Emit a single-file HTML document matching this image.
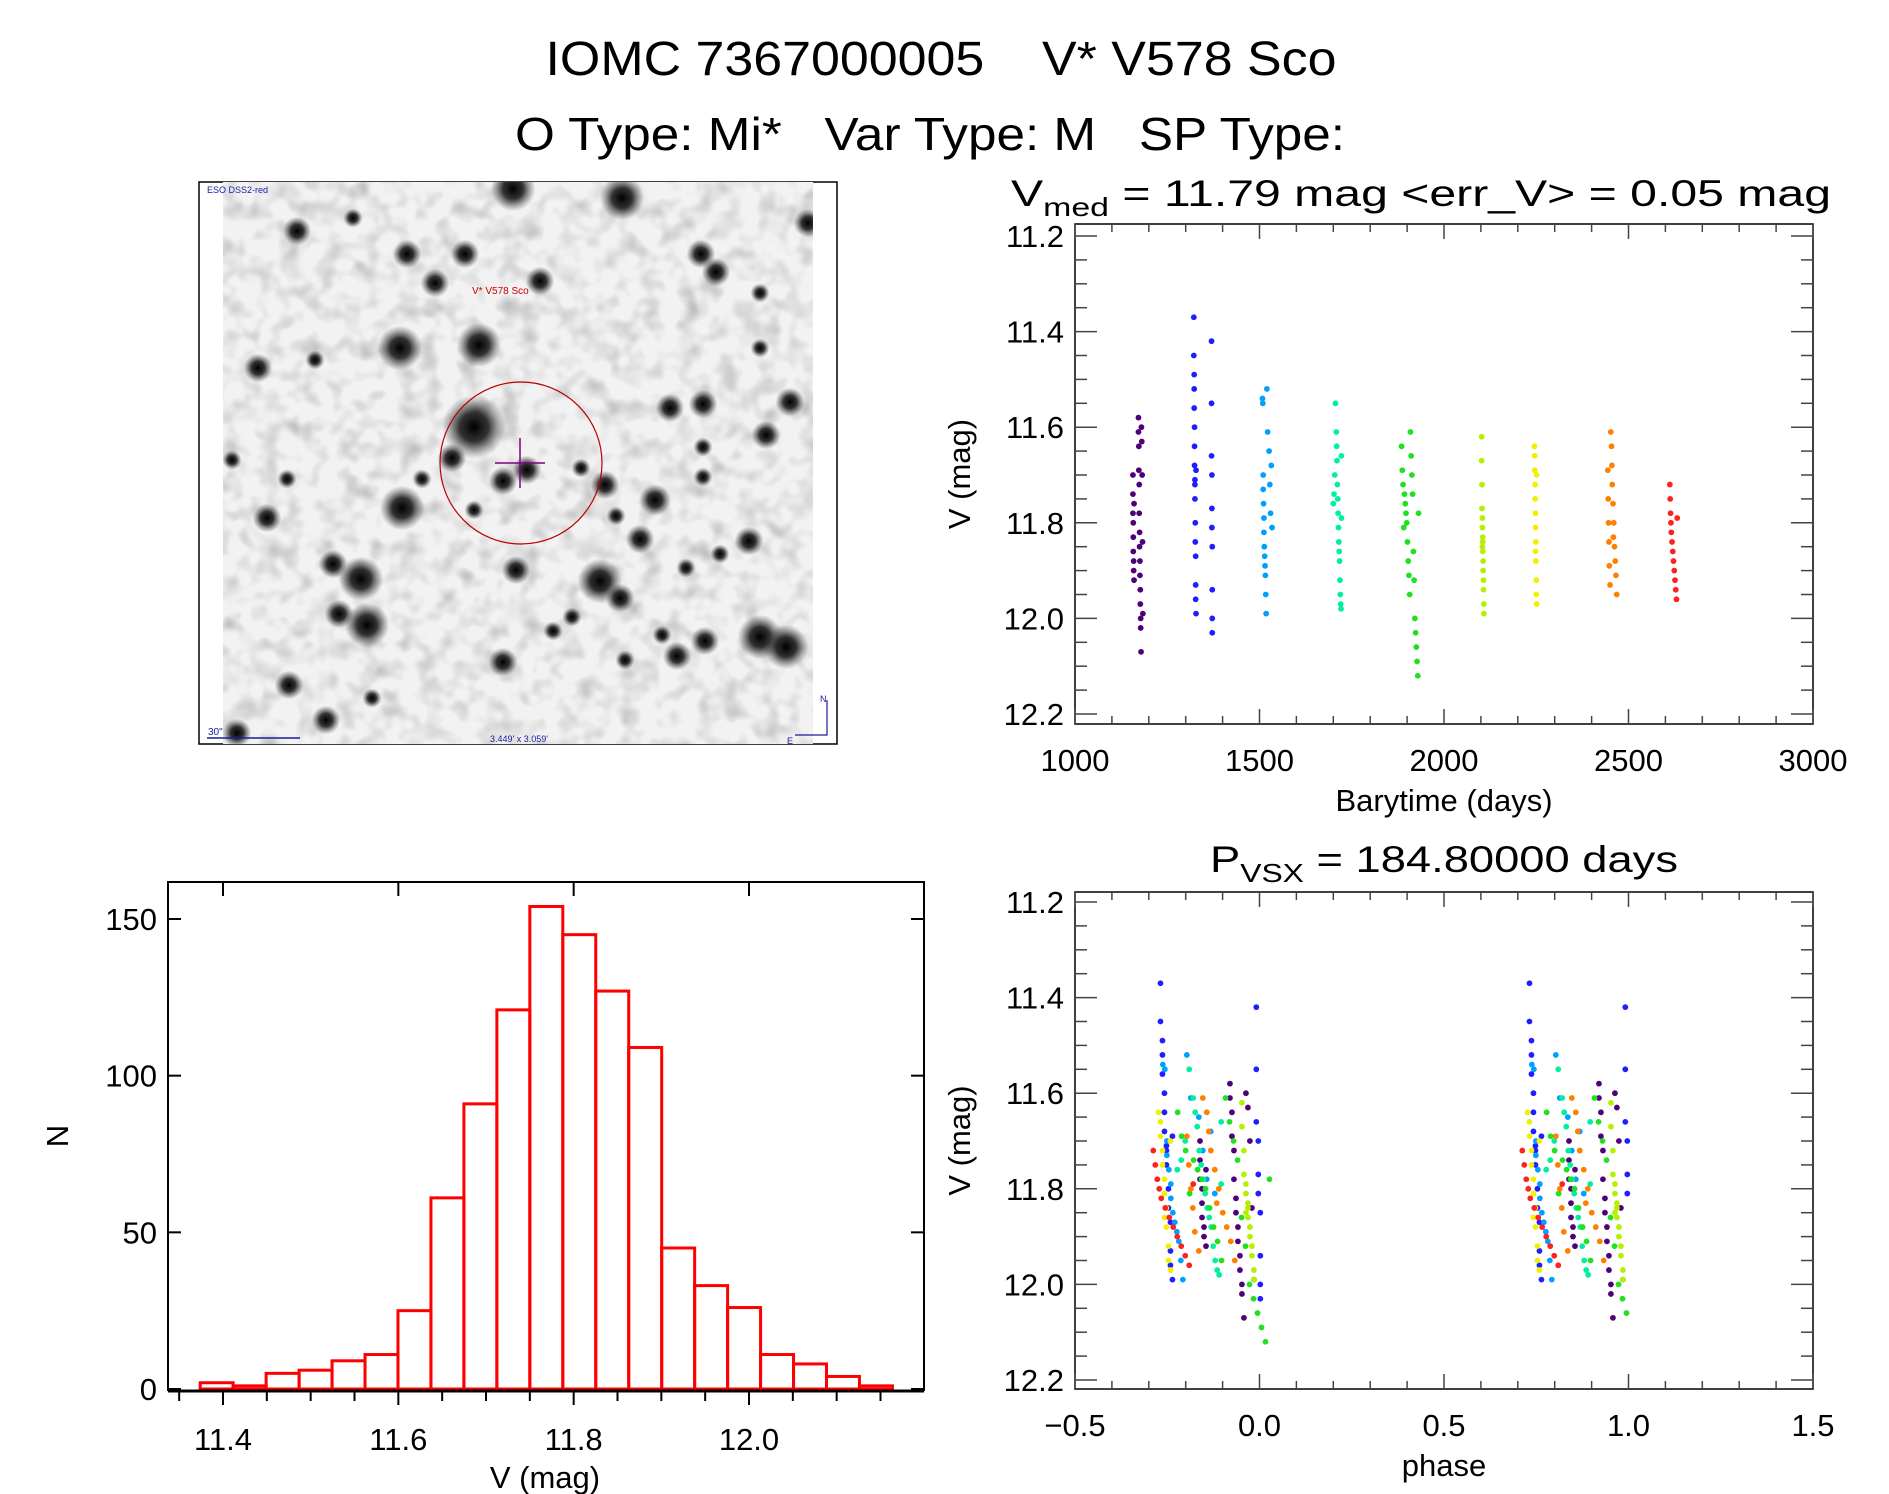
<!DOCTYPE html>
<html><head><meta charset="utf-8"><title>IOMC 7367000005 V* V578 Sco</title>
<style>
html,body{margin:0;padding:0;background:#fff;}
svg{display:block;font-family:"Liberation Sans",sans-serif;}
</style></head>
<body>
<svg id="fig" width="1889" height="1494" viewBox="0 0 1889 1494" xmlns="http://www.w3.org/2000/svg">
<defs>
<radialGradient id="star"><stop offset="0" stop-color="#000" stop-opacity="1"/><stop offset="0.45" stop-color="#111" stop-opacity="0.85"/><stop offset="1" stop-color="#444" stop-opacity="0"/></radialGradient>
<filter id="noise" x="0" y="0" width="100%" height="100%"><feTurbulence type="fractalNoise" baseFrequency="0.05" numOctaves="2" seed="3"/><feColorMatrix type="matrix" values="0 0 0 0 0  0 0 0 0 0  0 0 0 0 0  0.3 0.3 0 0 -0.27"/></filter>
<clipPath id="imgclip"><rect x="223" y="182" width="590" height="562"/></clipPath>
<clipPath id="phclip"><rect x="1075" y="892" width="738" height="497"/></clipPath>
</defs>
<rect width="1889" height="1494" fill="#fff"/>
<text x="941" y="75" font-size="48" text-anchor="middle" textLength="791" lengthAdjust="spacingAndGlyphs" xml:space="preserve">IOMC 7367000005    V* V578 Sco</text>
<text x="930" y="150" font-size="46" text-anchor="middle" textLength="830" lengthAdjust="spacingAndGlyphs" xml:space="preserve">O Type: Mi*   Var Type: M   SP Type:</text>

<g id="skyimage">
<rect x="199" y="182" width="638" height="562" fill="#fff" stroke="#000" stroke-width="1.5"/>
<g clip-path="url(#imgclip)">
<rect x="223" y="182" width="590" height="562" fill="#f2f2f2"/>
<rect x="223" y="182" width="590" height="562" filter="url(#noise)" fill="#000"/>
<g id="stars"></g>
</g>
<text x="207" y="193" font-size="9" fill="#1a1aa0">ESO DSS2-red</text>
<text x="472" y="294" font-size="10" fill="#c00">V* V578 Sco</text>
<circle cx="521" cy="463" r="81" fill="none" stroke="#b00" stroke-width="1.2"/>
<line x1="495" y1="463" x2="545" y2="463" stroke="#800080" stroke-width="1.5"/>
<line x1="520" y1="438" x2="520" y2="488" stroke="#800080" stroke-width="1.5"/>
<line x1="207" y1="738" x2="300" y2="738" stroke="#1a1aa0" stroke-width="1.5"/>
<text x="208" y="735" font-size="10" fill="#1a1aa0">30"</text>
<text x="519" y="742" font-size="9" fill="#1a1aa0" text-anchor="middle">3.449' x 3.059'</text>
<polyline points="827,700 827,735 795,735" fill="none" stroke="#1a1aa0" stroke-width="1.2"/>
<text x="820" y="702" font-size="9" fill="#1a1aa0">N</text>
<text x="787" y="744" font-size="9" fill="#1a1aa0">E</text>
</g>

<g id="lcpts"></g>
<g id="phpts" clip-path="url(#phclip)"></g>
<g id="lc"></g>
<g id="ph"></g>
<g id="hist"></g>
</svg>
<script>
// ---------- data ----------
const seasonColors = ['#500078','#1e1eff','#00a0ff','#00f0a0','#20e020','#b4f000','#f0f000','#ff8000','#ff2020'];
const seasonTimes = [
 [1157,1157,1157,1158,1158,1158,1159,1159,1160,1160,1172,1172,1173,1173,1174,1174,1175,1175,1176,1176,1177,1177,1178,1178,1179,1180,1181,1182,1183,1184],
 [1322,1322,1323,1323,1323,1324,1324,1324,1325,1325,1325,1326,1326,1327,1327,1327,1328,1328,1370,1370,1370,1371,1371,1371,1372,1372,1372,1372],
 [1508,1509,1510,1510,1511,1512,1512,1513,1514,1515,1516,1517,1518,1520,1522,1526,1528,1530,1532,1534],
 [1700,1702,1704,1706,1708,1709,1710,1711,1712,1713,1714,1715,1716,1717,1718,1719,1720,1721,1722,1722],
 [1885,1887,1889,1891,1893,1895,1897,1899,1901,1903,1905,1907,1909,1911,1913,1915,1917,1919,1921,1923,1925,1927,1929,1931],
 [2102,2102,2103,2103,2104,2104,2105,2105,2106,2106,2107,2107,2108,2108,2105,2104],
 [2245,2246,2246,2247,2247,2248,2248,2249,2249,2250,2250,2251,2251,2248],
 [2444,2445,2446,2447,2448,2450,2452,2454,2456,2458,2460,2462,2464,2466,2468,2455,2459],
 [2612,2613,2614,2615,2616,2618,2620,2622,2624,2626,2628,2630,2632]
];
const seasonMags = [
 [11.70,11.74,11.78,11.80,11.83,11.86,11.88,11.90,11.92,11.76,11.58,11.61,11.64,11.69,11.72,11.78,11.82,11.85,11.88,11.91,11.94,11.97,12.00,12.02,12.07,11.60,11.63,11.70,11.84,11.99],
 [11.37,11.45,11.49,11.52,11.56,11.60,11.64,11.68,11.71,11.72,11.75,11.80,11.84,11.87,11.93,11.96,11.99,11.69,11.42,11.55,11.66,11.70,11.77,11.81,11.85,11.94,12.00,12.03],
 [11.54,11.55,11.70,11.73,11.76,11.79,11.82,11.85,11.87,11.89,11.91,11.95,11.99,11.52,11.61,11.65,11.72,11.78,11.68,11.81],
 [11.76,11.74,11.70,11.55,11.61,11.64,11.67,11.72,11.75,11.78,11.81,11.84,11.86,11.88,11.92,11.95,11.97,11.98,11.66,11.79],
 [11.64,11.69,11.72,11.81,11.74,11.76,11.78,11.80,11.84,11.88,11.91,11.95,11.61,11.66,11.70,11.74,11.86,11.92,12.00,12.03,12.06,12.09,12.12,11.78],
 [11.62,11.67,11.72,11.77,11.79,11.81,11.84,11.86,11.88,11.90,11.92,11.94,11.97,11.99,11.83,11.85],
 [11.64,11.66,11.69,11.72,11.75,11.78,11.81,11.84,11.88,11.92,11.95,11.97,11.70,11.86],
 [11.69,11.75,11.80,11.84,11.89,11.93,11.61,11.64,11.72,11.76,11.80,11.85,11.88,11.91,11.95,11.68,11.83],
 [11.72,11.75,11.78,11.80,11.82,11.84,11.86,11.88,11.90,11.92,11.94,11.96,11.79]
];
const period = 184.8;
const epoch = 1002;
const histCounts = [2,1,5,6,9,11,25,61,91,121,154,145,127,109,45,33,26,11,8,4,1];
const histStart = 11.374;
const histWidth = 0.0376;
const lcXTicks = ['1000','1500','2000','2500','3000'];
const magTicks = ['11.2','11.4','11.6','11.8','12.0','12.2'];
const phaseTicks = ['\u22120.5','0.0','0.5','1.0','1.5'];
const histXTicks = ['11.4','11.6','11.8','12.0'];
const histYTicks = ['0','50','100','150'];

// sky image stars: [x, y, r]
const stars = [[513,189,14],[622,198,14],[297,231,9],[353,218,6],[407,254,9],[465,254,9],[435,283,9],[540,281,9],[400,348,14],[479,345,14],[258,368,9],[315,360,6],[701,254,9],[716,272,9],[808,223,9],[760,293,6],[760,348,6],[474,427,20],[452,458,9],[503,481,9],[527,470,9],[605,485,9],[670,408,9],[703,404,9],[790,402,9],[703,447,6],[766,435,9],[703,477,6],[655,500,10],[402,508,14],[267,518,9],[616,516,6],[640,539,9],[749,541,9],[720,554,6],[333,564,9],[361,579,14],[516,570,9],[600,581,14],[620,598,9],[339,614,9],[367,625,14],[553,631,6],[572,617,6],[662,635,6],[705,641,9],[677,656,9],[760,637,14],[786,647,14],[503,662,9],[289,685,9],[326,720,9],[237,733,9],[625,660,6],[686,568,6],[372,698,6],[232,460,6],[287,479,6],[422,479,6],[474,510,6],[581,468,6]];

// ---------- helpers ----------
const NS = 'http://www.w3.org/2000/svg';
function mk(tag, attrs, parent){ const e=document.createElementNS(NS,tag); for(const k in attrs) e.setAttribute(k,attrs[k]); parent.appendChild(e); return e; }
function lin(d0,d1,r0,r1){ return v => r0 + (v-d0)*(r1-r0)/(d1-d0); }

// stars
const sg = document.getElementById('stars');
stars.forEach(s => {
  const c = mk('circle',{cx:s[0],cy:s[1],r:s[2]*1.6,fill:'url(#star)'},sg);
  
  
});

// generic scatter panel
function panel(g, box, xd, yd, xMajor, xMinor, yMajor, yMinor, xLabels, yLabels, xTitle, title, sub, rest, titleLen){
  const x = lin(xd[0],xd[1],box.l,box.r);
  const y = lin(yd[0],yd[1],box.y0,box.y1);
  const fr = mk('rect',{x:box.l,y:box.t,width:box.r-box.l,height:box.b-box.t,fill:'none',stroke:'#000','stroke-width':1.5},g);
  
  
  const tg = mk('g',{stroke:'#444','stroke-width':1.5},g);
  
  
  for(let v=xd[0]; v<=xd[1]+1e-9; v+=xMinor){
    const major = Math.abs(Math.round((v-xd[0])/xMajor)*xMajor-(v-xd[0]))<1e-6;
    const L = major?15:8, px=x(v);
    mk('line',{x1:px,y1:box.b,x2:px,y2:box.b-L},tg);
    mk('line',{x1:px,y1:box.t,x2:px,y2:box.t+L},tg);
  }
  for(let v=yd[0]; v<=yd[1]+1e-9; v+=yMinor){
    const major = Math.abs(Math.round((v-yd[0])/yMajor)*yMajor-(v-yd[0]))<1e-6;
    const L = major?22:12, py=y(v);
    mk('line',{x1:box.l,y1:py,x2:box.l+L,y2:py},tg);
    mk('line',{x1:box.r,y1:py,x2:box.r-L,y2:py},tg);
  }
  xLabels.forEach((lab,i)=>{
    const t=mk('text',{x:x(xd[0]+i*xMajor),y:box.b+47,'font-size':31,'text-anchor':'middle'},g);
    t.textContent=lab;
    
    
  });
  yLabels.forEach((lab,i)=>{
    const t=mk('text',{x:box.l-11,y:y(yd[0]+i*yMajor)+11,'font-size':31,'text-anchor':'end'},g);
    t.textContent=lab;
    
    
  });
  const xt=mk('text',{x:(box.l+box.r)/2,y:box.b+87,'font-size':31,'text-anchor':'middle'},g);
  xt.textContent=xTitle;
  
  
  const cy=(box.t+box.b)/2;
  const yt=mk('text',{x:0,y:0,'font-size':31,'text-anchor':'middle',transform:'translate(970,'+cy+') rotate(-90)'},g);
  yt.textContent='V (mag)';
  
  
  const tt=mk('text',{x:title.x,y:title.y,'font-size':37,'textLength':titleLen,'lengthAdjust':'spacingAndGlyphs'},g);
  
  
  const t1=mk('tspan',{},tt); t1.textContent=title.main;
  const t2=mk('tspan',{dy:10,'font-size':26},tt); t2.textContent=sub;
  const t3=mk('tspan',{dy:-10},tt); t3.textContent=rest;
  return {x,y};
}

// light curve
const lcG = document.getElementById('lc');
const lcP = document.getElementById('lcpts');
const lc = panel(lcG,{l:1075,r:1813,t:224,b:724,y0:236,y1:714},[1000,3000],[11.2,12.2],500,100,0.2,0.05,lcXTicks,magTicks,'Barytime (days)',{x:1011,y:206,main:'V'},'med',' = 11.79 mag <err_V> = 0.05 mag',820);
seasonTimes.forEach((ts,s)=>{
  ts.forEach((t,i)=>{
    const c=mk('circle',{cx:lc.x(t),cy:lc.y(seasonMags[s][i]),r:2.9,fill:seasonColors[s]},lcP);
    
    
  });
});

// phase plot
const phG = document.getElementById('ph');
const phP = document.getElementById('phpts');
const ph = panel(phG,{l:1075,r:1813,t:892,b:1389,y0:902,y1:1380},[-0.5,1.5],[11.2,12.2],0.5,0.1,0.2,0.05,phaseTicks,magTicks,'phase',{x:1210,y:872,main:'P'},'VSX',' = 184.80000 days',468);
seasonTimes.forEach((ts,s)=>{
  ts.forEach((t,i)=>{
    let p=((t-epoch)/period)%1; if(p<0)p+=1;
    [p-1,p].forEach(pp=>{
      const c=mk('circle',{cx:ph.x(pp),cy:ph.y(seasonMags[s][i]),r:2.9,fill:seasonColors[s]},phP);
      
      
    });
  });
});

// histogram
const hG = document.getElementById('hist');
const hx = lin(11.4,12.0,223,749);
const hy = lin(0,150,1389,919);
const hb={l:168,r:924,t:882,b:1391};
histCounts.forEach((n,i)=>{
  const x0=hx(histStart+i*histWidth), x1=hx(histStart+(i+1)*histWidth);
  const r=mk('rect',{x:x0,y:hy(n),width:x1-x0,height:hy(0)-hy(n),fill:'none',stroke:'#f00','stroke-width':3},hG);
  
  
});
const hf=mk('polyline',{points:`${hb.l},${hb.b} ${hb.l},${hb.t} ${hb.r},${hb.t} ${hb.r},${hb.b}`,fill:'none',stroke:'#000','stroke-width':2},hG);


const hbase=mk('line',{x1:hb.l,y1:hb.b,x2:hb.r,y2:hb.b,stroke:'#000','stroke-width':3},hG);


const htg=mk('g',{stroke:'#000','stroke-width':2},hG);


for(let k=-1;k<=15;k++){
  const v=11.4+k*0.05, px=hx(v);
  if(px<hb.l||px>hb.r) continue;
  const major=(k%4===0);
  mk('line',{x1:px,y1:hb.b,x2:px,y2:hb.b+(major?14:10)},htg);
  if(major) mk('line',{x1:px,y1:hb.t,x2:px,y2:hb.t+14},htg);
}
histYTicks.forEach((lab,i)=>{
  const py=hy(i*50);
  mk('line',{x1:hb.l,y1:py,x2:hb.l+13,y2:py},htg);
  mk('line',{x1:hb.r,y1:py,x2:hb.r-13,y2:py},htg);
  const t=mk('text',{x:157,y:py+11,'font-size':31,'text-anchor':'end'},hG);
  t.textContent=lab;
  
  
});
histXTicks.forEach((lab,i)=>{
  const t=mk('text',{x:hx(11.4+i*0.2),y:1450,'font-size':31,'text-anchor':'middle'},hG);
  t.textContent=lab;
  
  
});
const hxt=mk('text',{x:545,y:1488,'font-size':31,'text-anchor':'middle'},hG);
hxt.textContent='V (mag)';


const hyt=mk('text',{x:0,y:0,'font-size':31,'text-anchor':'middle',transform:'translate(68,1136) rotate(-90)'},hG);
hyt.textContent='N';


</script>
</body></html>
